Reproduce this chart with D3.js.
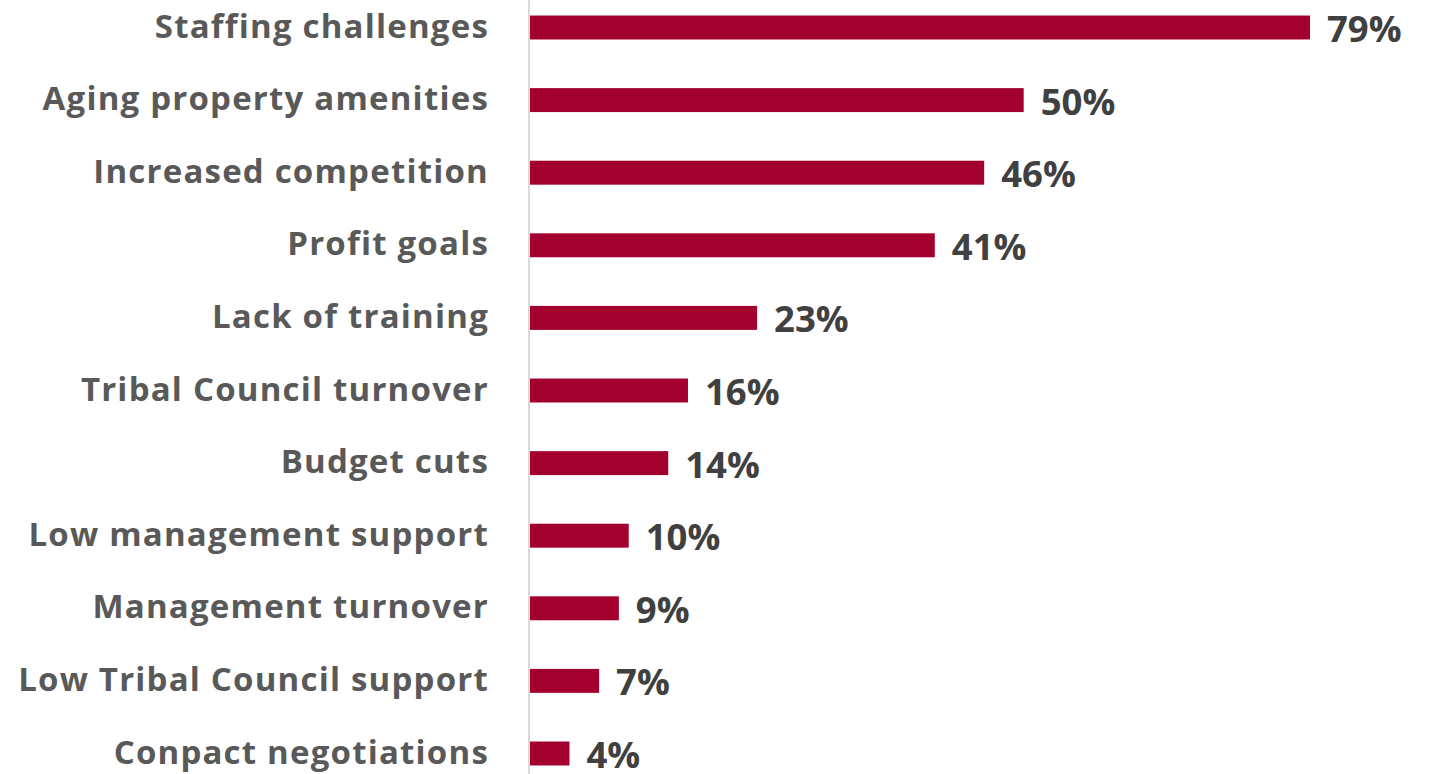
<!DOCTYPE html>
<html>
<head>
<meta charset="utf-8">
<script src="https://cdn.jsdelivr.net/npm/d3@7"></script>
<style>
  html, body { margin: 0; padding: 0; background: #ffffff; }
  svg { display: block; }
  .cat text { font-family: "Open Sans", sans-serif; font-weight: 700; fill: #595959; }
  .val { font-family: "Open Sans", sans-serif; font-weight: 700; fill: #404040; }
</style>
</head>
<body>
<svg id="chart" width="1430" height="774"></svg>
<script>
// Challenges reported, share of respondents (%)
const categories = [
  "Staffing challenges",
  "Aging property amenities",
  "Increased competition",
  "Profit goals",
  "Lack of training",
  "Tribal Council turnover",
  "Budget cuts",
  "Low management support",
  "Management turnover",
  "Low Tribal Council support",
  "Conpact negotiations"
];
const values = [79, 50, 46, 41, 23, 16, 14, 10, 9, 7, 4];
const valueLabels = values.map(v => v + "%");

const W = 1430, H = 774;
const svg = d3.select("#chart");

const axisX = 529;
const x = d3.scaleLinear().domain([0, 79]).range([axisX + 1, 1310]);
const y = d3.scaleBand()
  .domain(categories)
  .range([-8.8, 789.8])
  .paddingInner(0.67)
  .paddingOuter(0.335);

// bars
svg.append("g")
  .selectAll("rect")
  .data(categories)
  .join("rect")
  .attr("x", x(0))
  .attr("y", d => y(d))
  .attr("width", (d, i) => x(values[i]) - x(0))
  .attr("height", y.bandwidth())
  .attr("fill", "#a3002f");

// category axis
const axis = svg.append("g")
  .attr("class", "cat")
  .attr("transform", `translate(${axisX},0)`)
  .call(d3.axisLeft(y).tickSize(0).tickPadding(40));
axis.select(".domain").remove();
axis.selectAll("text")
  .attr("dy", null)
  .attr("y", 10)
  .style("font-size", "33px")
  .style("letter-spacing", "1.2px");

// vertical axis line spanning the full height
svg.append("line")
  .attr("x1", axisX).attr("x2", axisX)
  .attr("y1", 0).attr("y2", H)
  .attr("stroke", "#d9d9d9")
  .attr("stroke-width", 2);

// value labels
svg.append("g")
  .selectAll("text")
  .data(categories)
  .join("text")
  .attr("class", "val")
  .attr("x", (d, i) => x(values[i]) + 17)
  .attr("y", d => y(d) + y.bandwidth() / 2 + 14.5)
  .style("font-size", "36.5px")
  .text((d, i) => valueLabels[i]);
</script>
</body>
</html>
